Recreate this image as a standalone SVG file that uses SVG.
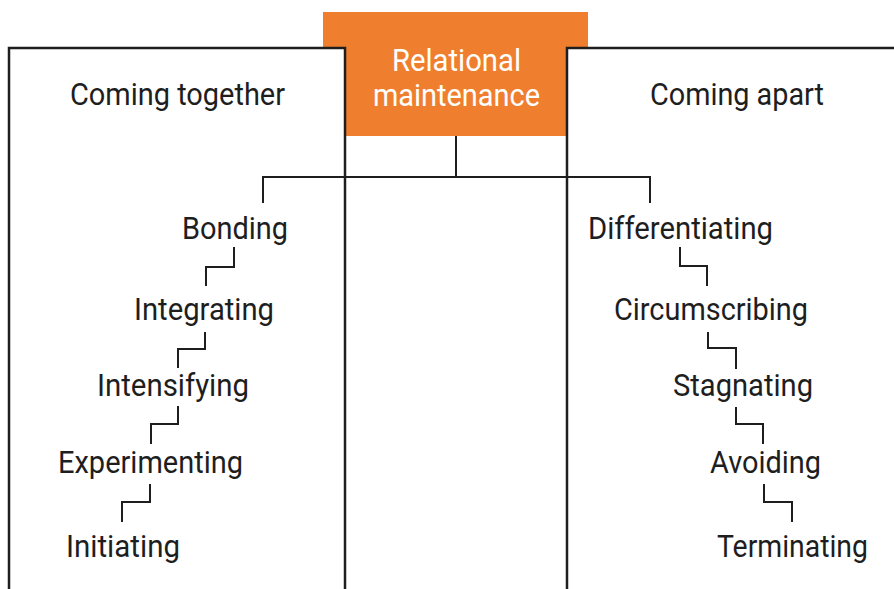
<svg xmlns="http://www.w3.org/2000/svg" width="894" height="589" viewBox="0 0 894 589">
<style>
.box{fill:#fff;stroke:#1e1e1e;stroke-width:2.5}
.lbl{font-family:Roboto,"Liberation Sans",sans-serif;font-size:31.5px;fill:#1e1e1e}
.wh{font-family:Roboto,"Liberation Sans",sans-serif;font-size:31.5px;fill:#fff}
.c{fill:none;stroke:#1e1e1e;stroke-width:2}
</style>
<rect width="894" height="589" fill="#fff"/>
<g id="maintenance">
<rect x="323" y="12" width="265" height="124" fill="#EF7F2E"/>
</g>
<g id="together">
<rect class="box" x="9" y="48" width="336" height="560"/>
<text class="lbl" x="70" y="105" textLength="215" lengthAdjust="spacingAndGlyphs">Coming together</text>
</g>
<g id="apart">
<rect class="box" x="567" y="48" width="340" height="560"/>
<text class="lbl" x="650" y="105" textLength="174" lengthAdjust="spacingAndGlyphs">Coming apart</text>
</g>
<g id="maintenance-label">
<text class="wh" x="392" y="71" textLength="129" lengthAdjust="spacingAndGlyphs">Relational</text>
<text class="wh" x="373" y="106" textLength="167" lengthAdjust="spacingAndGlyphs">maintenance</text>
</g>
<g id="connectors">
<path class="c" d="M456 136V177M263 203V177H650V203"/>
<path class="c" d="M234 247V267H206V286"/>
<path class="c" d="M205 332V349H178V368"/>
<path class="c" d="M178 406V424H151V444"/>
<path class="c" d="M150 484V502H122V522"/>
<path class="c" d="M680 247V266H707V286"/>
<path class="c" d="M708 332V348H736V369"/>
<path class="c" d="M736 407V424H763V444"/>
<path class="c" d="M764 484V502H792V522"/>
</g>
<g id="bonding"><text class="lbl" x="182" y="239" textLength="106" lengthAdjust="spacingAndGlyphs">Bonding</text></g>
<g id="integrating"><text class="lbl" x="134" y="320" textLength="140" lengthAdjust="spacingAndGlyphs">Integrating</text></g>
<g id="intensifying"><text class="lbl" x="97" y="396" textLength="152" lengthAdjust="spacingAndGlyphs">Intensifying</text></g>
<g id="experimenting"><text class="lbl" x="58" y="473" textLength="185" lengthAdjust="spacingAndGlyphs">Experimenting</text></g>
<g id="initiating"><text class="lbl" x="66" y="557" textLength="114" lengthAdjust="spacingAndGlyphs">Initiating</text></g>
<g id="differentiating"><text class="lbl" x="588" y="239" textLength="185" lengthAdjust="spacingAndGlyphs">Differentiating</text></g>
<g id="circumscribing"><text class="lbl" x="614" y="320" textLength="194" lengthAdjust="spacingAndGlyphs">Circumscribing</text></g>
<g id="stagnating"><text class="lbl" x="673" y="396" textLength="140" lengthAdjust="spacingAndGlyphs">Stagnating</text></g>
<g id="avoiding"><text class="lbl" x="710" y="473" textLength="111" lengthAdjust="spacingAndGlyphs">Avoiding</text></g>
<g id="terminating"><text class="lbl" x="717" y="557" textLength="151" lengthAdjust="spacingAndGlyphs">Terminating</text></g>
</svg>
